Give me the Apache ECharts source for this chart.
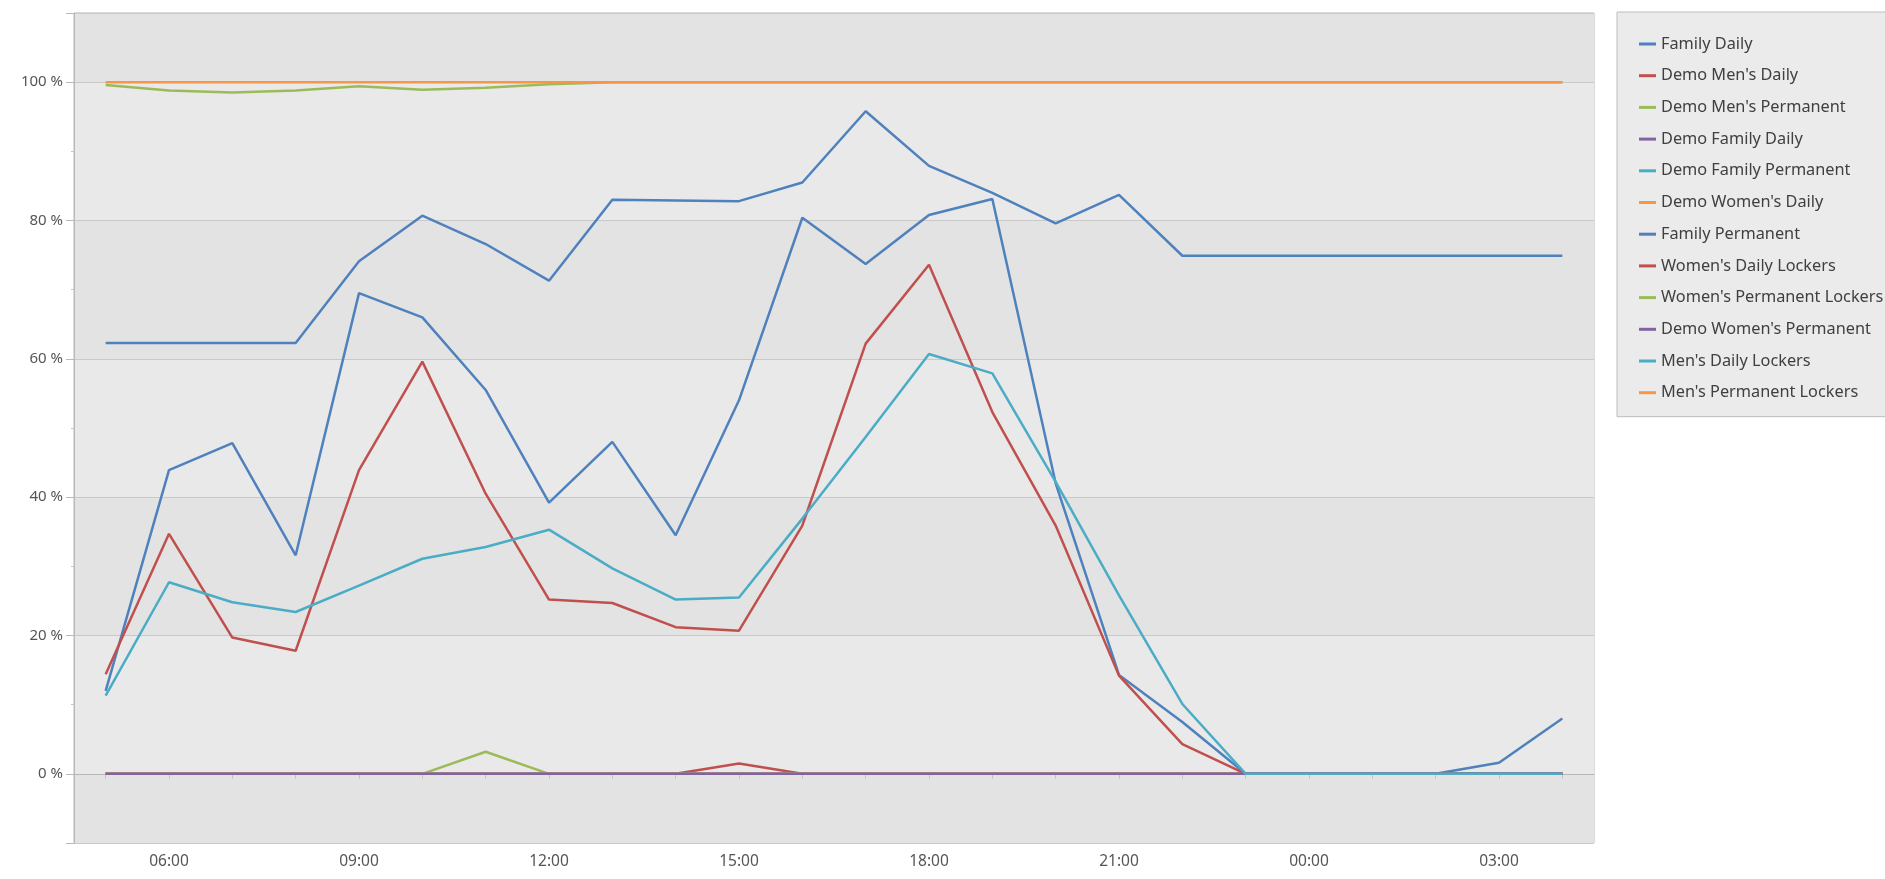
<!DOCTYPE html>
<html>
<head>
<meta charset="utf-8">
<script src="https://cdn.jsdelivr.net/npm/echarts@6.0.0/dist/echarts.min.js"></script>
<style>
  html, body { margin: 0; padding: 0; background: #ffffff; }
  #chart { width: 1885px; height: 879px; }
</style>
</head>
<body>
<div id="chart"></div>
<script>
// ---- data ----
const hours = ['05:00','06:00','07:00','08:00','09:00','10:00','11:00','12:00','13:00','14:00','15:00','16:00',
               '17:00','18:00','19:00','20:00','21:00','22:00','23:00','00:00','01:00','02:00','03:00','04:00'];

const familyDaily            = [12, 43.9, 47.8, 31.6, 69.5, 66.0, 55.5, 39.2, 48.0, 34.5, 54.0, 80.4, 73.7, 80.8, 83.1, 42.0, 14.3, 7.5, 0, 0, 0, 0, 1.6, 8.0];
const demoMensDaily          = [0, 0, 0, 0, 0, 0, 0, 0, 0, 0, 1.5, 0, 0, 0, 0, 0, 0, 0, 0, 0, 0, 0, 0, 0];
const demoMensPermanent      = [0, 0, 0, 0, 0, 0, 3.2, 0, 0, 0, 0, 0, 0, 0, 0, 0, 0, 0, 0, 0, 0, 0, 0, 0];
const demoFamilyDaily        = [0, 0, 0, 0, 0, 0, 0, 0, 0, 0, 0, 0, 0, 0, 0, 0, 0, 0, 0, 0, 0, 0, 0, 0];
const demoFamilyPermanent    = [0, 0, 0, 0, 0, 0, 0, 0, 0, 0, 0, 0, 0, 0, 0, 0, 0, 0, 0, 0, 0, 0, 0, 0];
const demoWomensDaily        = [0, 0, 0, 0, 0, 0, 0, 0, 0, 0, 0, 0, 0, 0, 0, 0, 0, 0, 0, 0, 0, 0, 0, 0];
const familyPermanent        = [62.3, 62.3, 62.3, 62.3, 74.1, 80.7, 76.6, 71.3, 83.0, 82.9, 82.8, 85.5, 95.8, 87.9, 84.0, 79.6, 83.7, 74.9, 74.9, 74.9, 74.9, 74.9, 74.9, 74.9];
const womensDailyLockers     = [14.4, 34.7, 19.7, 17.8, 43.9, 59.6, 40.5, 25.2, 24.7, 21.2, 20.7, 35.9, 62.2, 73.6, 52.3, 35.9, 14.2, 4.3, 0, 0, 0, 0, 0, 0];
const womensPermanentLockers = [99.6, 98.8, 98.5, 98.8, 99.4, 98.9, 99.2, 99.7, 100, 100, 100, 100, 100, 100, 100, 100, 100, 100, 100, 100, 100, 100, 100, 100];
const demoWomensPermanent    = [0, 0, 0, 0, 0, 0, 0, 0, 0, 0, 0, 0, 0, 0, 0, 0, 0, 0, 0, 0, 0, 0, 0, 0];
const mensDailyLockers       = [11.3, 27.7, 24.8, 23.4, 27.2, 31.1, 32.8, 35.3, 29.7, 25.2, 25.5, 36.9, 48.7, 60.7, 57.9, 42.2, 25.8, 10.1, 0, 0, 0, 0, 0, 0];
const mensPermanentLockers   = [100, 100, 100, 100, 100, 100, 100, 100, 100, 100, 100, 100, 100, 100, 100, 100, 100, 100, 100, 100, 100, 100, 100, 100];

const seriesNames = ['Family Daily', "Demo Men's Daily", "Demo Men's Permanent", 'Demo Family Daily',
  'Demo Family Permanent', "Demo Women's Daily", 'Family Permanent', "Women's Daily Lockers",
  "Women's Permanent Lockers", "Demo Women's Permanent", "Men's Daily Lockers", "Men's Permanent Lockers"];
const seriesData = [familyDaily, demoMensDaily, demoMensPermanent, demoFamilyDaily, demoFamilyPermanent,
  demoWomensDaily, familyPermanent, womensDailyLockers, womensPermanentLockers, demoWomensPermanent,
  mensDailyLockers, mensPermanentLockers];

const palette = ['#4F81BD', '#C0504D', '#9BBB59', '#8064A2', '#4BACC6', '#F79646'];

const chart = echarts.init(document.getElementById('chart'), null, { renderer: 'canvas' });
const labelFont = 'Noto Sans, DejaVu Sans, sans-serif';

chart.setOption({
  animation: false,
  color: palette,
  backgroundColor: '#ffffff',
  grid: {
    left: 74, right: 291, top: 13, bottom: 36,
    show: true, borderColor: '#b8b8b8', borderWidth: 1, backgroundColor: '#e7e7e7'
  },
  legend: {
    orient: 'vertical',
    left: 1617, top: 12,
    padding: [22, 12, 14, 22],
    backgroundColor: '#ebebeb',
    borderColor: '#bdbdbd', borderWidth: 1,
    icon: 'rect', itemWidth: 17, itemHeight: 3, itemGap: 11.7,
    textStyle: { fontFamily: labelFont, fontSize: 16.3, color: '#404040', lineHeight: 20, padding: [0, 0, 0, 0] },
    data: seriesNames
  },
  xAxis: {
    type: 'category',
    data: hours,
    boundaryGap: true,
    axisLine: { show: true, lineStyle: { color: '#b8b8b8' } },
    axisTick: {
      show: true, alignWithLabel: true, length: 5,
      interval: 0,
      lineStyle: { color: '#c4c4c4' }
    },
    axisLabel: {
      interval: (idx) => idx % 3 === 1,
      fontFamily: labelFont, fontSize: 15.5, color: '#555555', margin: 11
    },
    splitLine: { show: false }
  },
  yAxis: {
    type: 'value',
    min: -10, max: 110, splitNumber: 6,
    axisLine: { show: true, lineStyle: { color: '#b8b8b8' } },
    axisTick: { show: true, length: 8, lineStyle: { color: '#b8b8b8' } },
    minorTick: { show: true, splitNumber: 2, length: 3, lineStyle: { color: '#c4c4c4' } },
    axisLabel: {
      fontFamily: labelFont, fontSize: 15, color: '#555555', margin: 11,
      formatter: (v) => (v < 0 || v > 100) ? '' : v + ' %'
    },
    splitLine: { show: true, lineStyle: { color: '#c9c9c9', width: 1 } },
    splitArea: { show: true, areaStyle: { color: ['#e3e3e3', '#e9e9e9'] } }
  },
  series: seriesNames.map((name, i) => ({
    name: name,
    type: 'line',
    data: seriesData[i],
    showSymbol: false,
    symbol: 'none',
    lineStyle: { width: 2.5 },
    emphasis: { disabled: true }
  }))
});
</script>
</body>
</html>
